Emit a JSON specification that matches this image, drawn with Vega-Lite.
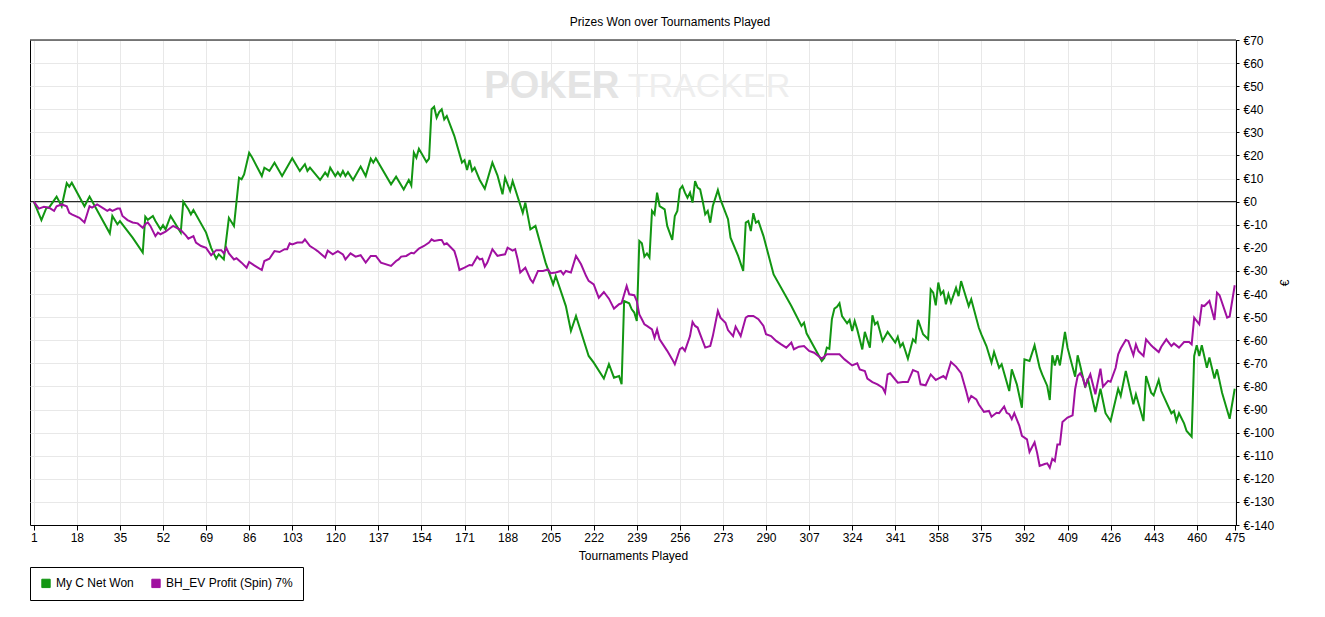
{
"$schema": "https://vega.github.io/schema/vega-lite/v6.json",
"width": 1206, "height": 485,
"autosize": {"type": "none"},
"padding": {"left": 30, "top": 40, "right": 89, "bottom": 92},
"background": "white",
"config": {
  "font": "Liberation Sans",
  "view": {"stroke": "black", "strokeWidth": 1},
  "axis": {"labelFont": "Liberation Sans", "labelFontSize": 12, "labelColor": "black", "titleFont": "Liberation Sans", "titleFontSize": 12, "titleFontWeight": "normal", "titleColor": "black", "domainColor": "black", "tickColor": "black", "gridColor": "#e8e8e8", "gridWidth": 1, "labelOverlap": false}
},
"title": {"text": "Prizes Won over Tournaments Played", "fontSize": 12, "fontWeight": "normal", "font": "Liberation Sans", "color": "black", "anchor": "middle", "frame": "group", "dx": 37, "offset": 5},
"data": {"values": [
{"s":"My C Net Won","t":1,"v":0},{"s":"My C Net Won","t":4,"v":-8},{"s":"My C Net Won","t":6,"v":-2.6},{"s":"My C Net Won","t":7,"v":-2.6},{"s":"My C Net Won","t":10,"v":2.2},{"s":"My C Net Won","t":12,"v":-2},{"s":"My C Net Won","t":14,"v":8},{"s":"My C Net Won","t":15,"v":6.5},{"s":"My C Net Won","t":16,"v":8.2},{"s":"My C Net Won","t":21,"v":-2},{"s":"My C Net Won","t":23,"v":2.2},{"s":"My C Net Won","t":31,"v":-13.7},{"s":"My C Net Won","t":32,"v":-6.2},{"s":"My C Net Won","t":34,"v":-9.8},{"s":"My C Net Won","t":35,"v":-8.4},{"s":"My C Net Won","t":40,"v":-15.6},{"s":"My C Net Won","t":44,"v":-22},{"s":"My C Net Won","t":45,"v":-6.5},{"s":"My C Net Won","t":46,"v":-7.9},{"s":"My C Net Won","t":48,"v":-6.2},{"s":"My C Net Won","t":49,"v":-8.4},{"s":"My C Net Won","t":51,"v":-12},{"s":"My C Net Won","t":52,"v":-10.2},{"s":"My C Net Won","t":53,"v":-12},{"s":"My C Net Won","t":55,"v":-6.2},{"s":"My C Net Won","t":59,"v":-13.4},{"s":"My C Net Won","t":60,"v":0},{"s":"My C Net Won","t":62,"v":-3.3},{"s":"My C Net Won","t":63,"v":-5.5},{"s":"My C Net Won","t":64,"v":-3.6},{"s":"My C Net Won","t":69,"v":-13.4},{"s":"My C Net Won","t":71,"v":-20},{"s":"My C Net Won","t":73,"v":-24.7},{"s":"My C Net Won","t":74,"v":-22.8},{"s":"My C Net Won","t":76,"v":-25},{"s":"My C Net Won","t":78,"v":-7},{"s":"My C Net Won","t":80,"v":-10.5},{"s":"My C Net Won","t":82,"v":10.4},{"s":"My C Net Won","t":83,"v":9.7},{"s":"My C Net Won","t":84,"v":11.8},{"s":"My C Net Won","t":86,"v":21.2},{"s":"My C Net Won","t":87,"v":19.5},{"s":"My C Net Won","t":91,"v":11.1},{"s":"My C Net Won","t":92,"v":14.7},{"s":"My C Net Won","t":94,"v":13.3},{"s":"My C Net Won","t":96,"v":16.9},{"s":"My C Net Won","t":99,"v":11.1},{"s":"My C Net Won","t":103,"v":18.8},{"s":"My C Net Won","t":106,"v":13.3},{"s":"My C Net Won","t":108,"v":16.2},{"s":"My C Net Won","t":109,"v":13.3},{"s":"My C Net Won","t":110,"v":14.7},{"s":"My C Net Won","t":114,"v":9.4},{"s":"My C Net Won","t":116,"v":12.6},{"s":"My C Net Won","t":117,"v":11.1},{"s":"My C Net Won","t":118,"v":14.7},{"s":"My C Net Won","t":120,"v":11.1},{"s":"My C Net Won","t":121,"v":12.8},{"s":"My C Net Won","t":122,"v":11.1},{"s":"My C Net Won","t":123,"v":13.3},{"s":"My C Net Won","t":124,"v":11.1},{"s":"My C Net Won","t":125,"v":12.8},{"s":"My C Net Won","t":127,"v":9.4},{"s":"My C Net Won","t":130,"v":15.2},{"s":"My C Net Won","t":132,"v":11.1},{"s":"My C Net Won","t":134,"v":18.6},{"s":"My C Net Won","t":135,"v":16.9},{"s":"My C Net Won","t":136,"v":18.8},{"s":"My C Net Won","t":142,"v":7.5},{"s":"My C Net Won","t":144,"v":10.8},{"s":"My C Net Won","t":147,"v":5.3},{"s":"My C Net Won","t":149,"v":9.4},{"s":"My C Net Won","t":150,"v":7},{"s":"My C Net Won","t":151,"v":21.2},{"s":"My C Net Won","t":152,"v":19},{"s":"My C Net Won","t":153,"v":22.9},{"s":"My C Net Won","t":156,"v":17.2},{"s":"My C Net Won","t":157,"v":18.6},{"s":"My C Net Won","t":158,"v":40},{"s":"My C Net Won","t":159,"v":41.1},{"s":"My C Net Won","t":160,"v":36.4},{"s":"My C Net Won","t":161,"v":38.8},{"s":"My C Net Won","t":162,"v":40},{"s":"My C Net Won","t":163,"v":35.6},{"s":"My C Net Won","t":164,"v":37.1},{"s":"My C Net Won","t":166,"v":31.3},{"s":"My C Net Won","t":167,"v":28.4},{"s":"My C Net Won","t":170,"v":16.9},{"s":"My C Net Won","t":171,"v":18},{"s":"My C Net Won","t":172,"v":13.7},{"s":"My C Net Won","t":173,"v":18},{"s":"My C Net Won","t":174,"v":13.3},{"s":"My C Net Won","t":175,"v":14.7},{"s":"My C Net Won","t":177,"v":9.4},{"s":"My C Net Won","t":179,"v":5.6},{"s":"My C Net Won","t":182,"v":16.9},{"s":"My C Net Won","t":184,"v":11.4},{"s":"My C Net Won","t":186,"v":3.2},{"s":"My C Net Won","t":187,"v":10.4},{"s":"My C Net Won","t":189,"v":4.6},{"s":"My C Net Won","t":190,"v":8.9},{"s":"My C Net Won","t":194,"v":-4.8},{"s":"My C Net Won","t":195,"v":-0.4},{"s":"My C Net Won","t":197,"v":-12},{"s":"My C Net Won","t":199,"v":-10.5},{"s":"My C Net Won","t":203,"v":-26.4},{"s":"My C Net Won","t":206,"v":-35.8},{"s":"My C Net Won","t":207,"v":-32.2},{"s":"My C Net Won","t":211,"v":-45.2},{"s":"My C Net Won","t":213,"v":-56},{"s":"My C Net Won","t":215,"v":-49.5},{"s":"My C Net Won","t":220,"v":-66.8},{"s":"My C Net Won","t":222,"v":-69.7},{"s":"My C Net Won","t":226,"v":-76.6},{"s":"My C Net Won","t":228,"v":-70.4},{"s":"My C Net Won","t":230,"v":-76.2},{"s":"My C Net Won","t":232,"v":-75.5},{"s":"My C Net Won","t":233,"v":-79},{"s":"My C Net Won","t":234,"v":-43},{"s":"My C Net Won","t":236,"v":-44},{"s":"My C Net Won","t":237,"v":-46.6},{"s":"My C Net Won","t":238,"v":-48},{"s":"My C Net Won","t":239,"v":-51.7},{"s":"My C Net Won","t":240,"v":-17},{"s":"My C Net Won","t":241,"v":-18},{"s":"My C Net Won","t":242,"v":-23.8},{"s":"My C Net Won","t":243,"v":-22.4},{"s":"My C Net Won","t":244,"v":-24.2},{"s":"My C Net Won","t":245,"v":-4},{"s":"My C Net Won","t":246,"v":-5.5},{"s":"My C Net Won","t":247,"v":3.9},{"s":"My C Net Won","t":248,"v":-1.9},{"s":"My C Net Won","t":250,"v":-3.3},{"s":"My C Net Won","t":251,"v":-10.5},{"s":"My C Net Won","t":253,"v":-16.6},{"s":"My C Net Won","t":254,"v":-6.2},{"s":"My C Net Won","t":255,"v":-4},{"s":"My C Net Won","t":256,"v":5.3},{"s":"My C Net Won","t":257,"v":6.8},{"s":"My C Net Won","t":258,"v":3.9},{"s":"My C Net Won","t":259,"v":1.7},{"s":"My C Net Won","t":260,"v":3.9},{"s":"My C Net Won","t":261,"v":-0.4},{"s":"My C Net Won","t":262,"v":8.9},{"s":"My C Net Won","t":263,"v":6.1},{"s":"My C Net Won","t":264,"v":5.3},{"s":"My C Net Won","t":265,"v":0.3},{"s":"My C Net Won","t":266,"v":-5.5},{"s":"My C Net Won","t":267,"v":-4},{"s":"My C Net Won","t":268,"v":-9.1},{"s":"My C Net Won","t":269,"v":-1.9},{"s":"My C Net Won","t":271,"v":5},{"s":"My C Net Won","t":272,"v":1},{"s":"My C Net Won","t":275,"v":-7.6},{"s":"My C Net Won","t":276,"v":-15.6},{"s":"My C Net Won","t":279,"v":-23.5},{"s":"My C Net Won","t":281,"v":-30},{"s":"My C Net Won","t":282,"v":-9.1},{"s":"My C Net Won","t":283,"v":-8.4},{"s":"My C Net Won","t":284,"v":-12.7},{"s":"My C Net Won","t":285,"v":-5},{"s":"My C Net Won","t":286,"v":-9.1},{"s":"My C Net Won","t":287,"v":-8.4},{"s":"My C Net Won","t":289,"v":-14.9},{"s":"My C Net Won","t":293,"v":-31.5},{"s":"My C Net Won","t":300,"v":-45.2},{"s":"My C Net Won","t":304,"v":-53.8},{"s":"My C Net Won","t":305,"v":-52.4},{"s":"My C Net Won","t":306,"v":-57},{"s":"My C Net Won","t":312,"v":-69},{"s":"My C Net Won","t":313,"v":-67.7},{"s":"My C Net Won","t":314,"v":-63.2},{"s":"My C Net Won","t":315,"v":-63.7},{"s":"My C Net Won","t":316,"v":-50.9},{"s":"My C Net Won","t":317,"v":-46.3},{"s":"My C Net Won","t":318,"v":-45.5},{"s":"My C Net Won","t":319,"v":-44},{"s":"My C Net Won","t":320,"v":-49.5},{"s":"My C Net Won","t":322,"v":-52.7},{"s":"My C Net Won","t":323,"v":-51.2},{"s":"My C Net Won","t":324,"v":-56},{"s":"My C Net Won","t":325,"v":-51.7},{"s":"My C Net Won","t":326,"v":-55.3},{"s":"My C Net Won","t":328,"v":-64},{"s":"My C Net Won","t":329,"v":-56.4},{"s":"My C Net Won","t":331,"v":-63.2},{"s":"My C Net Won","t":332,"v":-49.2},{"s":"My C Net Won","t":333,"v":-53.1},{"s":"My C Net Won","t":334,"v":-52.1},{"s":"My C Net Won","t":336,"v":-60.3},{"s":"My C Net Won","t":338,"v":-56.4},{"s":"My C Net Won","t":341,"v":-61},{"s":"My C Net Won","t":342,"v":-58.5},{"s":"My C Net Won","t":343,"v":-62.8},{"s":"My C Net Won","t":344,"v":-61.3},{"s":"My C Net Won","t":346,"v":-68},{"s":"My C Net Won","t":348,"v":-59.6},{"s":"My C Net Won","t":349,"v":-60.8},{"s":"My C Net Won","t":350,"v":-51.2},{"s":"My C Net Won","t":352,"v":-57.4},{"s":"My C Net Won","t":354,"v":-59.6},{"s":"My C Net Won","t":355,"v":-38},{"s":"My C Net Won","t":356,"v":-39.4},{"s":"My C Net Won","t":357,"v":-44.9},{"s":"My C Net Won","t":358,"v":-35},{"s":"My C Net Won","t":359,"v":-40.1},{"s":"My C Net Won","t":360,"v":-38.7},{"s":"My C Net Won","t":361,"v":-44.4},{"s":"My C Net Won","t":362,"v":-40.1},{"s":"My C Net Won","t":363,"v":-43.7},{"s":"My C Net Won","t":365,"v":-37.3},{"s":"My C Net Won","t":366,"v":-40.9},{"s":"My C Net Won","t":367,"v":-34.4},{"s":"My C Net Won","t":368,"v":-38},{"s":"My C Net Won","t":370,"v":-45.2},{"s":"My C Net Won","t":371,"v":-42.3},{"s":"My C Net Won","t":374,"v":-54.6},{"s":"My C Net Won","t":375,"v":-57.5},{"s":"My C Net Won","t":377,"v":-62.5},{"s":"My C Net Won","t":379,"v":-69.7},{"s":"My C Net Won","t":380,"v":-65.1},{"s":"My C Net Won","t":382,"v":-71.9},{"s":"My C Net Won","t":383,"v":-70.4},{"s":"My C Net Won","t":386,"v":-82},{"s":"My C Net Won","t":387,"v":-72.6},{"s":"My C Net Won","t":389,"v":-79.1},{"s":"My C Net Won","t":391,"v":-89.2},{"s":"My C Net Won","t":392,"v":-68.3},{"s":"My C Net Won","t":394,"v":-69},{"s":"My C Net Won","t":396,"v":-62.2},{"s":"My C Net Won","t":398,"v":-71.9},{"s":"My C Net Won","t":399,"v":-74.8},{"s":"My C Net Won","t":401,"v":-79.8},{"s":"My C Net Won","t":402,"v":-85.9},{"s":"My C Net Won","t":403,"v":-66.5},{"s":"My C Net Won","t":404,"v":-70.9},{"s":"My C Net Won","t":405,"v":-66.5},{"s":"My C Net Won","t":406,"v":-70.9},{"s":"My C Net Won","t":408,"v":-56.4},{"s":"My C Net Won","t":409,"v":-63.2},{"s":"My C Net Won","t":412,"v":-75.8},{"s":"My C Net Won","t":413,"v":-66.5},{"s":"My C Net Won","t":414,"v":-70.9},{"s":"My C Net Won","t":416,"v":-80.5},{"s":"My C Net Won","t":417,"v":-76.6},{"s":"My C Net Won","t":420,"v":-91.1},{"s":"My C Net Won","t":422,"v":-81},{"s":"My C Net Won","t":424,"v":-91.6},{"s":"My C Net Won","t":426,"v":-95},{"s":"My C Net Won","t":429,"v":-81},{"s":"My C Net Won","t":430,"v":-84.1},{"s":"My C Net Won","t":432,"v":-73.3},{"s":"My C Net Won","t":435,"v":-87.7},{"s":"My C Net Won","t":436,"v":-83.4},{"s":"My C Net Won","t":439,"v":-95},{"s":"My C Net Won","t":440,"v":-75.5},{"s":"My C Net Won","t":442,"v":-82.7},{"s":"My C Net Won","t":443,"v":-83.9},{"s":"My C Net Won","t":445,"v":-77.2},{"s":"My C Net Won","t":446,"v":-82},{"s":"My C Net Won","t":450,"v":-91.6},{"s":"My C Net Won","t":451,"v":-90.6},{"s":"My C Net Won","t":452,"v":-95},{"s":"My C Net Won","t":453,"v":-91.6},{"s":"My C Net Won","t":455,"v":-96},{"s":"My C Net Won","t":456,"v":-99.3},{"s":"My C Net Won","t":458,"v":-101.8},{"s":"My C Net Won","t":459,"v":-66.8},{"s":"My C Net Won","t":460,"v":-62.2},{"s":"My C Net Won","t":461,"v":-66.8},{"s":"My C Net Won","t":462,"v":-62.2},{"s":"My C Net Won","t":464,"v":-71.9},{"s":"My C Net Won","t":465,"v":-67.5},{"s":"My C Net Won","t":467,"v":-76.6},{"s":"My C Net Won","t":468,"v":-72.6},{"s":"My C Net Won","t":470,"v":-82.7},{"s":"My C Net Won","t":473,"v":-94},{"s":"My C Net Won","t":475,"v":-81},
{"s":"BH_EV Profit (Spin) 7%","t":1,"v":0},{"s":"BH_EV Profit (Spin) 7%","t":3,"v":-3},{"s":"BH_EV Profit (Spin) 7%","t":5,"v":-2.2},{"s":"BH_EV Profit (Spin) 7%","t":7,"v":-2.6},{"s":"BH_EV Profit (Spin) 7%","t":9,"v":-4},{"s":"BH_EV Profit (Spin) 7%","t":10,"v":-2},{"s":"BH_EV Profit (Spin) 7%","t":12,"v":-1.2},{"s":"BH_EV Profit (Spin) 7%","t":14,"v":-2},{"s":"BH_EV Profit (Spin) 7%","t":15,"v":-4.8},{"s":"BH_EV Profit (Spin) 7%","t":16,"v":-5.5},{"s":"BH_EV Profit (Spin) 7%","t":19,"v":-7},{"s":"BH_EV Profit (Spin) 7%","t":21,"v":-9},{"s":"BH_EV Profit (Spin) 7%","t":23,"v":-2},{"s":"BH_EV Profit (Spin) 7%","t":24,"v":-2.6},{"s":"BH_EV Profit (Spin) 7%","t":26,"v":-1.2},{"s":"BH_EV Profit (Spin) 7%","t":28,"v":-2.6},{"s":"BH_EV Profit (Spin) 7%","t":30,"v":-4},{"s":"BH_EV Profit (Spin) 7%","t":31,"v":-3.3},{"s":"BH_EV Profit (Spin) 7%","t":32,"v":-4},{"s":"BH_EV Profit (Spin) 7%","t":34,"v":-3},{"s":"BH_EV Profit (Spin) 7%","t":35,"v":-3},{"s":"BH_EV Profit (Spin) 7%","t":36,"v":-6.2},{"s":"BH_EV Profit (Spin) 7%","t":38,"v":-8},{"s":"BH_EV Profit (Spin) 7%","t":40,"v":-9},{"s":"BH_EV Profit (Spin) 7%","t":42,"v":-9.4},{"s":"BH_EV Profit (Spin) 7%","t":44,"v":-11.3},{"s":"BH_EV Profit (Spin) 7%","t":45,"v":-9.8},{"s":"BH_EV Profit (Spin) 7%","t":46,"v":-9},{"s":"BH_EV Profit (Spin) 7%","t":47,"v":-10.5},{"s":"BH_EV Profit (Spin) 7%","t":49,"v":-14.9},{"s":"BH_EV Profit (Spin) 7%","t":50,"v":-13.4},{"s":"BH_EV Profit (Spin) 7%","t":51,"v":-14.1},{"s":"BH_EV Profit (Spin) 7%","t":53,"v":-13},{"s":"BH_EV Profit (Spin) 7%","t":55,"v":-11.3},{"s":"BH_EV Profit (Spin) 7%","t":56,"v":-10.5},{"s":"BH_EV Profit (Spin) 7%","t":59,"v":-12.3},{"s":"BH_EV Profit (Spin) 7%","t":61,"v":-14.6},{"s":"BH_EV Profit (Spin) 7%","t":62,"v":-16},{"s":"BH_EV Profit (Spin) 7%","t":64,"v":-14.9},{"s":"BH_EV Profit (Spin) 7%","t":65,"v":-17.7},{"s":"BH_EV Profit (Spin) 7%","t":67,"v":-19.2},{"s":"BH_EV Profit (Spin) 7%","t":69,"v":-20},{"s":"BH_EV Profit (Spin) 7%","t":71,"v":-23.2},{"s":"BH_EV Profit (Spin) 7%","t":73,"v":-21},{"s":"BH_EV Profit (Spin) 7%","t":75,"v":-21},{"s":"BH_EV Profit (Spin) 7%","t":76,"v":-22.4},{"s":"BH_EV Profit (Spin) 7%","t":77,"v":-20},{"s":"BH_EV Profit (Spin) 7%","t":78,"v":-22.4},{"s":"BH_EV Profit (Spin) 7%","t":80,"v":-25},{"s":"BH_EV Profit (Spin) 7%","t":81,"v":-24.5},{"s":"BH_EV Profit (Spin) 7%","t":83,"v":-26.4},{"s":"BH_EV Profit (Spin) 7%","t":85,"v":-28.6},{"s":"BH_EV Profit (Spin) 7%","t":86,"v":-26.1},{"s":"BH_EV Profit (Spin) 7%","t":88,"v":-27.6},{"s":"BH_EV Profit (Spin) 7%","t":91,"v":-29.6},{"s":"BH_EV Profit (Spin) 7%","t":92,"v":-25.7},{"s":"BH_EV Profit (Spin) 7%","t":94,"v":-24.7},{"s":"BH_EV Profit (Spin) 7%","t":96,"v":-21.4},{"s":"BH_EV Profit (Spin) 7%","t":98,"v":-21.8},{"s":"BH_EV Profit (Spin) 7%","t":100,"v":-20.6},{"s":"BH_EV Profit (Spin) 7%","t":101,"v":-20.6},{"s":"BH_EV Profit (Spin) 7%","t":102,"v":-18},{"s":"BH_EV Profit (Spin) 7%","t":103,"v":-18.5},{"s":"BH_EV Profit (Spin) 7%","t":105,"v":-17.7},{"s":"BH_EV Profit (Spin) 7%","t":107,"v":-17.7},{"s":"BH_EV Profit (Spin) 7%","t":108,"v":-16.3},{"s":"BH_EV Profit (Spin) 7%","t":110,"v":-19.2},{"s":"BH_EV Profit (Spin) 7%","t":112,"v":-20.6},{"s":"BH_EV Profit (Spin) 7%","t":113,"v":-21.4},{"s":"BH_EV Profit (Spin) 7%","t":116,"v":-24.2},{"s":"BH_EV Profit (Spin) 7%","t":117,"v":-21.2},{"s":"BH_EV Profit (Spin) 7%","t":119,"v":-22.8},{"s":"BH_EV Profit (Spin) 7%","t":121,"v":-21.4},{"s":"BH_EV Profit (Spin) 7%","t":123,"v":-22.8},{"s":"BH_EV Profit (Spin) 7%","t":124,"v":-25},{"s":"BH_EV Profit (Spin) 7%","t":126,"v":-22.4},{"s":"BH_EV Profit (Spin) 7%","t":128,"v":-23.8},{"s":"BH_EV Profit (Spin) 7%","t":130,"v":-23.2},{"s":"BH_EV Profit (Spin) 7%","t":132,"v":-26.4},{"s":"BH_EV Profit (Spin) 7%","t":134,"v":-23.5},{"s":"BH_EV Profit (Spin) 7%","t":136,"v":-23.5},{"s":"BH_EV Profit (Spin) 7%","t":138,"v":-26.4},{"s":"BH_EV Profit (Spin) 7%","t":142,"v":-27.8},{"s":"BH_EV Profit (Spin) 7%","t":144,"v":-25.7},{"s":"BH_EV Profit (Spin) 7%","t":145,"v":-25},{"s":"BH_EV Profit (Spin) 7%","t":146,"v":-23.8},{"s":"BH_EV Profit (Spin) 7%","t":148,"v":-23.5},{"s":"BH_EV Profit (Spin) 7%","t":150,"v":-22.1},{"s":"BH_EV Profit (Spin) 7%","t":151,"v":-22.4},{"s":"BH_EV Profit (Spin) 7%","t":153,"v":-20.3},{"s":"BH_EV Profit (Spin) 7%","t":155,"v":-19.2},{"s":"BH_EV Profit (Spin) 7%","t":157,"v":-17.7},{"s":"BH_EV Profit (Spin) 7%","t":158,"v":-16.3},{"s":"BH_EV Profit (Spin) 7%","t":159,"v":-17},{"s":"BH_EV Profit (Spin) 7%","t":161,"v":-16.6},{"s":"BH_EV Profit (Spin) 7%","t":162,"v":-16.6},{"s":"BH_EV Profit (Spin) 7%","t":163,"v":-18.5},{"s":"BH_EV Profit (Spin) 7%","t":164,"v":-18},{"s":"BH_EV Profit (Spin) 7%","t":167,"v":-21.4},{"s":"BH_EV Profit (Spin) 7%","t":168,"v":-25},{"s":"BH_EV Profit (Spin) 7%","t":169,"v":-29.6},{"s":"BH_EV Profit (Spin) 7%","t":171,"v":-28.6},{"s":"BH_EV Profit (Spin) 7%","t":173,"v":-27.4},{"s":"BH_EV Profit (Spin) 7%","t":174,"v":-27.6},{"s":"BH_EV Profit (Spin) 7%","t":176,"v":-23.8},{"s":"BH_EV Profit (Spin) 7%","t":177,"v":-25},{"s":"BH_EV Profit (Spin) 7%","t":178,"v":-24.7},{"s":"BH_EV Profit (Spin) 7%","t":179,"v":-28.1},{"s":"BH_EV Profit (Spin) 7%","t":180,"v":-26.4},{"s":"BH_EV Profit (Spin) 7%","t":182,"v":-20.6},{"s":"BH_EV Profit (Spin) 7%","t":184,"v":-23.5},{"s":"BH_EV Profit (Spin) 7%","t":185,"v":-23.2},{"s":"BH_EV Profit (Spin) 7%","t":187,"v":-22.8},{"s":"BH_EV Profit (Spin) 7%","t":188,"v":-19.9},{"s":"BH_EV Profit (Spin) 7%","t":190,"v":-21.2},{"s":"BH_EV Profit (Spin) 7%","t":191,"v":-20.6},{"s":"BH_EV Profit (Spin) 7%","t":192,"v":-25},{"s":"BH_EV Profit (Spin) 7%","t":193,"v":-30.7},{"s":"BH_EV Profit (Spin) 7%","t":195,"v":-28.6},{"s":"BH_EV Profit (Spin) 7%","t":197,"v":-33.6},{"s":"BH_EV Profit (Spin) 7%","t":198,"v":-35},{"s":"BH_EV Profit (Spin) 7%","t":200,"v":-30},{"s":"BH_EV Profit (Spin) 7%","t":202,"v":-30},{"s":"BH_EV Profit (Spin) 7%","t":204,"v":-29.3},{"s":"BH_EV Profit (Spin) 7%","t":205,"v":-31},{"s":"BH_EV Profit (Spin) 7%","t":207,"v":-30.7},{"s":"BH_EV Profit (Spin) 7%","t":209,"v":-30},{"s":"BH_EV Profit (Spin) 7%","t":210,"v":-31.5},{"s":"BH_EV Profit (Spin) 7%","t":211,"v":-30},{"s":"BH_EV Profit (Spin) 7%","t":213,"v":-30.7},{"s":"BH_EV Profit (Spin) 7%","t":215,"v":-23.5},{"s":"BH_EV Profit (Spin) 7%","t":217,"v":-27.1},{"s":"BH_EV Profit (Spin) 7%","t":219,"v":-32.2},{"s":"BH_EV Profit (Spin) 7%","t":220,"v":-34.3},{"s":"BH_EV Profit (Spin) 7%","t":222,"v":-35.8},{"s":"BH_EV Profit (Spin) 7%","t":224,"v":-41.6},{"s":"BH_EV Profit (Spin) 7%","t":226,"v":-39.1},{"s":"BH_EV Profit (Spin) 7%","t":228,"v":-42},{"s":"BH_EV Profit (Spin) 7%","t":230,"v":-46.3},{"s":"BH_EV Profit (Spin) 7%","t":232,"v":-44.4},{"s":"BH_EV Profit (Spin) 7%","t":233,"v":-44},{"s":"BH_EV Profit (Spin) 7%","t":235,"v":-36.5},{"s":"BH_EV Profit (Spin) 7%","t":236,"v":-40.1},{"s":"BH_EV Profit (Spin) 7%","t":238,"v":-40.5},{"s":"BH_EV Profit (Spin) 7%","t":239,"v":-43},{"s":"BH_EV Profit (Spin) 7%","t":240,"v":-48.8},{"s":"BH_EV Profit (Spin) 7%","t":241,"v":-50.9},{"s":"BH_EV Profit (Spin) 7%","t":242,"v":-53.1},{"s":"BH_EV Profit (Spin) 7%","t":243,"v":-53.8},{"s":"BH_EV Profit (Spin) 7%","t":245,"v":-55.3},{"s":"BH_EV Profit (Spin) 7%","t":246,"v":-58.9},{"s":"BH_EV Profit (Spin) 7%","t":247,"v":-55.3},{"s":"BH_EV Profit (Spin) 7%","t":248,"v":-59.6},{"s":"BH_EV Profit (Spin) 7%","t":251,"v":-64.6},{"s":"BH_EV Profit (Spin) 7%","t":253,"v":-68.3},{"s":"BH_EV Profit (Spin) 7%","t":254,"v":-70.4},{"s":"BH_EV Profit (Spin) 7%","t":256,"v":-63.9},{"s":"BH_EV Profit (Spin) 7%","t":257,"v":-63.2},{"s":"BH_EV Profit (Spin) 7%","t":258,"v":-64.6},{"s":"BH_EV Profit (Spin) 7%","t":260,"v":-58.2},{"s":"BH_EV Profit (Spin) 7%","t":261,"v":-52.1},{"s":"BH_EV Profit (Spin) 7%","t":262,"v":-53.8},{"s":"BH_EV Profit (Spin) 7%","t":263,"v":-54.5},{"s":"BH_EV Profit (Spin) 7%","t":265,"v":-60.3},{"s":"BH_EV Profit (Spin) 7%","t":266,"v":-63.2},{"s":"BH_EV Profit (Spin) 7%","t":268,"v":-62.5},{"s":"BH_EV Profit (Spin) 7%","t":269,"v":-58.2},{"s":"BH_EV Profit (Spin) 7%","t":271,"v":-47.3},{"s":"BH_EV Profit (Spin) 7%","t":272,"v":-50.2},{"s":"BH_EV Profit (Spin) 7%","t":274,"v":-52.4},{"s":"BH_EV Profit (Spin) 7%","t":275,"v":-55.6},{"s":"BH_EV Profit (Spin) 7%","t":277,"v":-58.2},{"s":"BH_EV Profit (Spin) 7%","t":278,"v":-54.1},{"s":"BH_EV Profit (Spin) 7%","t":280,"v":-58.2},{"s":"BH_EV Profit (Spin) 7%","t":282,"v":-50.2},{"s":"BH_EV Profit (Spin) 7%","t":283,"v":-49.5},{"s":"BH_EV Profit (Spin) 7%","t":285,"v":-49.5},{"s":"BH_EV Profit (Spin) 7%","t":287,"v":-50.9},{"s":"BH_EV Profit (Spin) 7%","t":289,"v":-53.8},{"s":"BH_EV Profit (Spin) 7%","t":290,"v":-57.4},{"s":"BH_EV Profit (Spin) 7%","t":292,"v":-58.2},{"s":"BH_EV Profit (Spin) 7%","t":294,"v":-60.3},{"s":"BH_EV Profit (Spin) 7%","t":296,"v":-61.8},{"s":"BH_EV Profit (Spin) 7%","t":298,"v":-63.2},{"s":"BH_EV Profit (Spin) 7%","t":300,"v":-61},{"s":"BH_EV Profit (Spin) 7%","t":301,"v":-63.9},{"s":"BH_EV Profit (Spin) 7%","t":303,"v":-62.8},{"s":"BH_EV Profit (Spin) 7%","t":305,"v":-62.5},{"s":"BH_EV Profit (Spin) 7%","t":307,"v":-64.6},{"s":"BH_EV Profit (Spin) 7%","t":309,"v":-65.4},{"s":"BH_EV Profit (Spin) 7%","t":312,"v":-68},{"s":"BH_EV Profit (Spin) 7%","t":314,"v":-66.1},{"s":"BH_EV Profit (Spin) 7%","t":317,"v":-66.1},{"s":"BH_EV Profit (Spin) 7%","t":319,"v":-66.1},{"s":"BH_EV Profit (Spin) 7%","t":321,"v":-68.3},{"s":"BH_EV Profit (Spin) 7%","t":324,"v":-70.9},{"s":"BH_EV Profit (Spin) 7%","t":326,"v":-70},{"s":"BH_EV Profit (Spin) 7%","t":327,"v":-72.6},{"s":"BH_EV Profit (Spin) 7%","t":329,"v":-73.3},{"s":"BH_EV Profit (Spin) 7%","t":330,"v":-76.6},{"s":"BH_EV Profit (Spin) 7%","t":332,"v":-78.1},{"s":"BH_EV Profit (Spin) 7%","t":334,"v":-79.1},{"s":"BH_EV Profit (Spin) 7%","t":336,"v":-80.5},{"s":"BH_EV Profit (Spin) 7%","t":337,"v":-82.7},{"s":"BH_EV Profit (Spin) 7%","t":338,"v":-74.8},{"s":"BH_EV Profit (Spin) 7%","t":339,"v":-74.3},{"s":"BH_EV Profit (Spin) 7%","t":342,"v":-78.4},{"s":"BH_EV Profit (Spin) 7%","t":344,"v":-78.1},{"s":"BH_EV Profit (Spin) 7%","t":346,"v":-78.1},{"s":"BH_EV Profit (Spin) 7%","t":348,"v":-72.9},{"s":"BH_EV Profit (Spin) 7%","t":350,"v":-73.8},{"s":"BH_EV Profit (Spin) 7%","t":351,"v":-79.1},{"s":"BH_EV Profit (Spin) 7%","t":353,"v":-79.5},{"s":"BH_EV Profit (Spin) 7%","t":355,"v":-74.8},{"s":"BH_EV Profit (Spin) 7%","t":357,"v":-77.2},{"s":"BH_EV Profit (Spin) 7%","t":358,"v":-76.6},{"s":"BH_EV Profit (Spin) 7%","t":360,"v":-75.5},{"s":"BH_EV Profit (Spin) 7%","t":361,"v":-76.6},{"s":"BH_EV Profit (Spin) 7%","t":363,"v":-69.4},{"s":"BH_EV Profit (Spin) 7%","t":365,"v":-71.4},{"s":"BH_EV Profit (Spin) 7%","t":367,"v":-74.3},{"s":"BH_EV Profit (Spin) 7%","t":369,"v":-82},{"s":"BH_EV Profit (Spin) 7%","t":370,"v":-86.3},{"s":"BH_EV Profit (Spin) 7%","t":371,"v":-84.1},{"s":"BH_EV Profit (Spin) 7%","t":373,"v":-85.6},{"s":"BH_EV Profit (Spin) 7%","t":374,"v":-87.8},{"s":"BH_EV Profit (Spin) 7%","t":376,"v":-91},{"s":"BH_EV Profit (Spin) 7%","t":378,"v":-90.6},{"s":"BH_EV Profit (Spin) 7%","t":379,"v":-93.1},{"s":"BH_EV Profit (Spin) 7%","t":381,"v":-91.4},{"s":"BH_EV Profit (Spin) 7%","t":382,"v":-91.6},{"s":"BH_EV Profit (Spin) 7%","t":384,"v":-88.7},{"s":"BH_EV Profit (Spin) 7%","t":385,"v":-91.4},{"s":"BH_EV Profit (Spin) 7%","t":386,"v":-92},{"s":"BH_EV Profit (Spin) 7%","t":387,"v":-94.2},{"s":"BH_EV Profit (Spin) 7%","t":388,"v":-91.6},{"s":"BH_EV Profit (Spin) 7%","t":390,"v":-97.1},{"s":"BH_EV Profit (Spin) 7%","t":391,"v":-101.4},{"s":"BH_EV Profit (Spin) 7%","t":393,"v":-102.9},{"s":"BH_EV Profit (Spin) 7%","t":394,"v":-108.4},{"s":"BH_EV Profit (Spin) 7%","t":396,"v":-104.2},{"s":"BH_EV Profit (Spin) 7%","t":397,"v":-108.7},{"s":"BH_EV Profit (Spin) 7%","t":398,"v":-114.4},{"s":"BH_EV Profit (Spin) 7%","t":400,"v":-113.6},{"s":"BH_EV Profit (Spin) 7%","t":401,"v":-113.3},{"s":"BH_EV Profit (Spin) 7%","t":402,"v":-115.2},{"s":"BH_EV Profit (Spin) 7%","t":403,"v":-111.3},{"s":"BH_EV Profit (Spin) 7%","t":404,"v":-112.3},{"s":"BH_EV Profit (Spin) 7%","t":405,"v":-105.1},{"s":"BH_EV Profit (Spin) 7%","t":406,"v":-105.1},{"s":"BH_EV Profit (Spin) 7%","t":407,"v":-95.4},{"s":"BH_EV Profit (Spin) 7%","t":409,"v":-93.5},{"s":"BH_EV Profit (Spin) 7%","t":411,"v":-92.5},{"s":"BH_EV Profit (Spin) 7%","t":412,"v":-81.2},{"s":"BH_EV Profit (Spin) 7%","t":413,"v":-75.5},{"s":"BH_EV Profit (Spin) 7%","t":414,"v":-74.3},{"s":"BH_EV Profit (Spin) 7%","t":415,"v":-76.2},{"s":"BH_EV Profit (Spin) 7%","t":416,"v":-79.8},{"s":"BH_EV Profit (Spin) 7%","t":418,"v":-74.8},{"s":"BH_EV Profit (Spin) 7%","t":420,"v":-83.4},{"s":"BH_EV Profit (Spin) 7%","t":422,"v":-72.3},{"s":"BH_EV Profit (Spin) 7%","t":423,"v":-80.1},{"s":"BH_EV Profit (Spin) 7%","t":425,"v":-77.6},{"s":"BH_EV Profit (Spin) 7%","t":426,"v":-78},{"s":"BH_EV Profit (Spin) 7%","t":428,"v":-71.9},{"s":"BH_EV Profit (Spin) 7%","t":429,"v":-66.1},{"s":"BH_EV Profit (Spin) 7%","t":430,"v":-63.6},{"s":"BH_EV Profit (Spin) 7%","t":432,"v":-59.9},{"s":"BH_EV Profit (Spin) 7%","t":433,"v":-60.3},{"s":"BH_EV Profit (Spin) 7%","t":435,"v":-66.5},{"s":"BH_EV Profit (Spin) 7%","t":436,"v":-61.8},{"s":"BH_EV Profit (Spin) 7%","t":437,"v":-64.7},{"s":"BH_EV Profit (Spin) 7%","t":439,"v":-66.8},{"s":"BH_EV Profit (Spin) 7%","t":440,"v":-59.6},{"s":"BH_EV Profit (Spin) 7%","t":442,"v":-62.2},{"s":"BH_EV Profit (Spin) 7%","t":443,"v":-63.2},{"s":"BH_EV Profit (Spin) 7%","t":445,"v":-65.1},{"s":"BH_EV Profit (Spin) 7%","t":446,"v":-62.8},{"s":"BH_EV Profit (Spin) 7%","t":448,"v":-59.6},{"s":"BH_EV Profit (Spin) 7%","t":450,"v":-62.5},{"s":"BH_EV Profit (Spin) 7%","t":451,"v":-61.4},{"s":"BH_EV Profit (Spin) 7%","t":453,"v":-63.2},{"s":"BH_EV Profit (Spin) 7%","t":455,"v":-60.8},{"s":"BH_EV Profit (Spin) 7%","t":457,"v":-60.8},{"s":"BH_EV Profit (Spin) 7%","t":458,"v":-61.8},{"s":"BH_EV Profit (Spin) 7%","t":459,"v":-50.2},{"s":"BH_EV Profit (Spin) 7%","t":461,"v":-53.1},{"s":"BH_EV Profit (Spin) 7%","t":462,"v":-44.9},{"s":"BH_EV Profit (Spin) 7%","t":463,"v":-45.2},{"s":"BH_EV Profit (Spin) 7%","t":465,"v":-43},{"s":"BH_EV Profit (Spin) 7%","t":467,"v":-51.2},{"s":"BH_EV Profit (Spin) 7%","t":468,"v":-39.4},{"s":"BH_EV Profit (Spin) 7%","t":469,"v":-40.5},{"s":"BH_EV Profit (Spin) 7%","t":472,"v":-50.2},{"s":"BH_EV Profit (Spin) 7%","t":473,"v":-49.7},{"s":"BH_EV Profit (Spin) 7%","t":475,"v":-36.2}
]},
"layer": [
  {
    "data": {"values": [{"label": "POKER"}]},
    "mark": {"type": "text", "font": "Liberation Sans", "fontWeight": "bold", "fontSize": 38, "fill": "#e4e4e4", "baseline": "middle", "align": "center"},
    "encoding": {
      "x": {"datum": 205.5, "type": "quantitative", "scale": {"domain": [-0.5, 475.5], "nice": false, "zero": false},
        "axis": {"values": [1,18,35,52,69,86,103,120,137,154,171,188,205,222,239,256,273,290,307,324,341,358,375,392,409,426,443,460,475], "title": "Tournaments Played", "tickSize": 5, "labelPadding": 2, "titlePadding": 7, "grid": true, "labelFlush": false}},
      "y": {"datum": 49.5, "type": "quantitative", "scale": {"domain": [-140, 70], "nice": false, "zero": false},
        "axis": {"orient": "right", "values": [-140,-130,-120,-110,-100,-90,-80,-70,-60,-50,-40,-30,-20,-10,0,10,20,30,40,50,60,70], "labelExpr": "'€' + datum.value", "labelOverlap": false, "title": "€", "titleAngle": -90, "tickSize": 3, "labelPadding": 4, "titlePadding": 18, "grid": true}},
      "text": {"field": "label", "type": "nominal"}
    }
  },
  {
    "data": {"values": [{"label": "TRACKER"}]},
    "mark": {"type": "text", "font": "Liberation Sans", "fontWeight": "normal", "fontSize": 34, "fill": "#eeeeee", "baseline": "middle", "align": "center"},
    "encoding": {
      "x": {"datum": 267.5, "type": "quantitative",
        "axis": {"values": [1,18,35,52,69,86,103,120,137,154,171,188,205,222,239,256,273,290,307,324,341,358,375,392,409,426,443,460,475], "title": "Tournaments Played", "tickSize": 5, "labelPadding": 2, "titlePadding": 7, "grid": true, "labelFlush": false}},
      "y": {"datum": 49.5, "type": "quantitative",
        "axis": {"orient": "right", "values": [-140,-130,-120,-110,-100,-90,-80,-70,-60,-50,-40,-30,-20,-10,0,10,20,30,40,50,60,70], "labelExpr": "'€' + datum.value", "labelOverlap": false, "title": "€", "titleAngle": -90, "tickSize": 3, "labelPadding": 4, "titlePadding": 18, "grid": true}},
      "text": {"field": "label", "type": "nominal"}
    }
  },
  {
    "data": {"values": [{"label": "zero"}]},
    "mark": {"type": "rule", "color": "black", "strokeWidth": 1},
    "encoding": {"y": {"datum": 0, "type": "quantitative",
        "axis": {"orient": "right", "values": [-140,-130,-120,-110,-100,-90,-80,-70,-60,-50,-40,-30,-20,-10,0,10,20,30,40,50,60,70], "labelExpr": "'€' + datum.value", "labelOverlap": false, "title": "€", "titleAngle": -90, "tickSize": 3, "labelPadding": 4, "titlePadding": 18, "grid": true}}}
  },
  {
    "data": {"values": [{"label": "top frame"}]},
    "mark": {"type": "rule", "color": "black", "strokeWidth": 1},
    "encoding": {"y": {"datum": 70, "type": "quantitative",
        "axis": {"orient": "right", "values": [-140,-130,-120,-110,-100,-90,-80,-70,-60,-50,-40,-30,-20,-10,0,10,20,30,40,50,60,70], "labelExpr": "'€' + datum.value", "labelOverlap": false, "title": "€", "titleAngle": -90, "tickSize": 3, "labelPadding": 4, "titlePadding": 18, "grid": true}}}
  },
  {
    "transform": [{"filter": "datum.t < 0"}],
    "mark": {"type": "point", "shape": "square", "filled": true, "opacity": 1, "stroke": "black", "strokeWidth": 1},
    "encoding": {
      "x": {"field": "t", "type": "quantitative",
        "axis": {"values": [1,18,35,52,69,86,103,120,137,154,171,188,205,222,239,256,273,290,307,324,341,358,375,392,409,426,443,460,475], "title": "Tournaments Played", "tickSize": 5, "labelPadding": 2, "titlePadding": 7, "grid": true, "labelFlush": false}},
      "y": {"field": "v", "type": "quantitative",
        "axis": {"orient": "right", "values": [-140,-130,-120,-110,-100,-90,-80,-70,-60,-50,-40,-30,-20,-10,0,10,20,30,40,50,60,70], "labelExpr": "'€' + datum.value", "labelOverlap": false, "title": "€", "titleAngle": -90, "tickSize": 3, "labelPadding": 4, "titlePadding": 18, "grid": true}},
      "fill": {"field": "s", "type": "nominal",
        "scale": {"domain": ["My C Net Won", "BH_EV Profit (Spin) 7%"], "range": ["#129612", "#a010a0"]},
        "legend": {"orient": "none", "legendX": 0, "legendY": 527, "direction": "horizontal", "title": null, "strokeColor": "black", "fillColor": "white", "padding": 10, "symbolType": "square", "symbolSize": 70, "symbolOpacity": 1, "symbolStrokeColor": "#000000", "symbolStrokeWidth": 1, "labelFontSize": 12, "labelFont": "Liberation Sans", "labelColor": "black", "columnPadding": 15, "labelOffset": 4}}
    }
  },
  {
    "mark": {"type": "line", "strokeWidth": 2, "interpolate": "linear"},
    "encoding": {
      "x": {"field": "t", "type": "quantitative",
        "axis": {"values": [1,18,35,52,69,86,103,120,137,154,171,188,205,222,239,256,273,290,307,324,341,358,375,392,409,426,443,460,475], "title": "Tournaments Played", "tickSize": 5, "labelPadding": 2, "titlePadding": 7, "grid": true, "labelFlush": false}},
      "y": {"field": "v", "type": "quantitative",
        "axis": {"orient": "right", "values": [-140,-130,-120,-110,-100,-90,-80,-70,-60,-50,-40,-30,-20,-10,0,10,20,30,40,50,60,70], "labelExpr": "'€' + datum.value", "labelOverlap": false, "title": "€", "titleAngle": -90, "tickSize": 3, "labelPadding": 4, "titlePadding": 18, "grid": true}},
      "stroke": {"field": "s", "type": "nominal", "scale": {"domain": ["My C Net Won", "BH_EV Profit (Spin) 7%"], "range": ["#129612", "#a010a0"]}, "legend": null}
    }
  }
]
}
